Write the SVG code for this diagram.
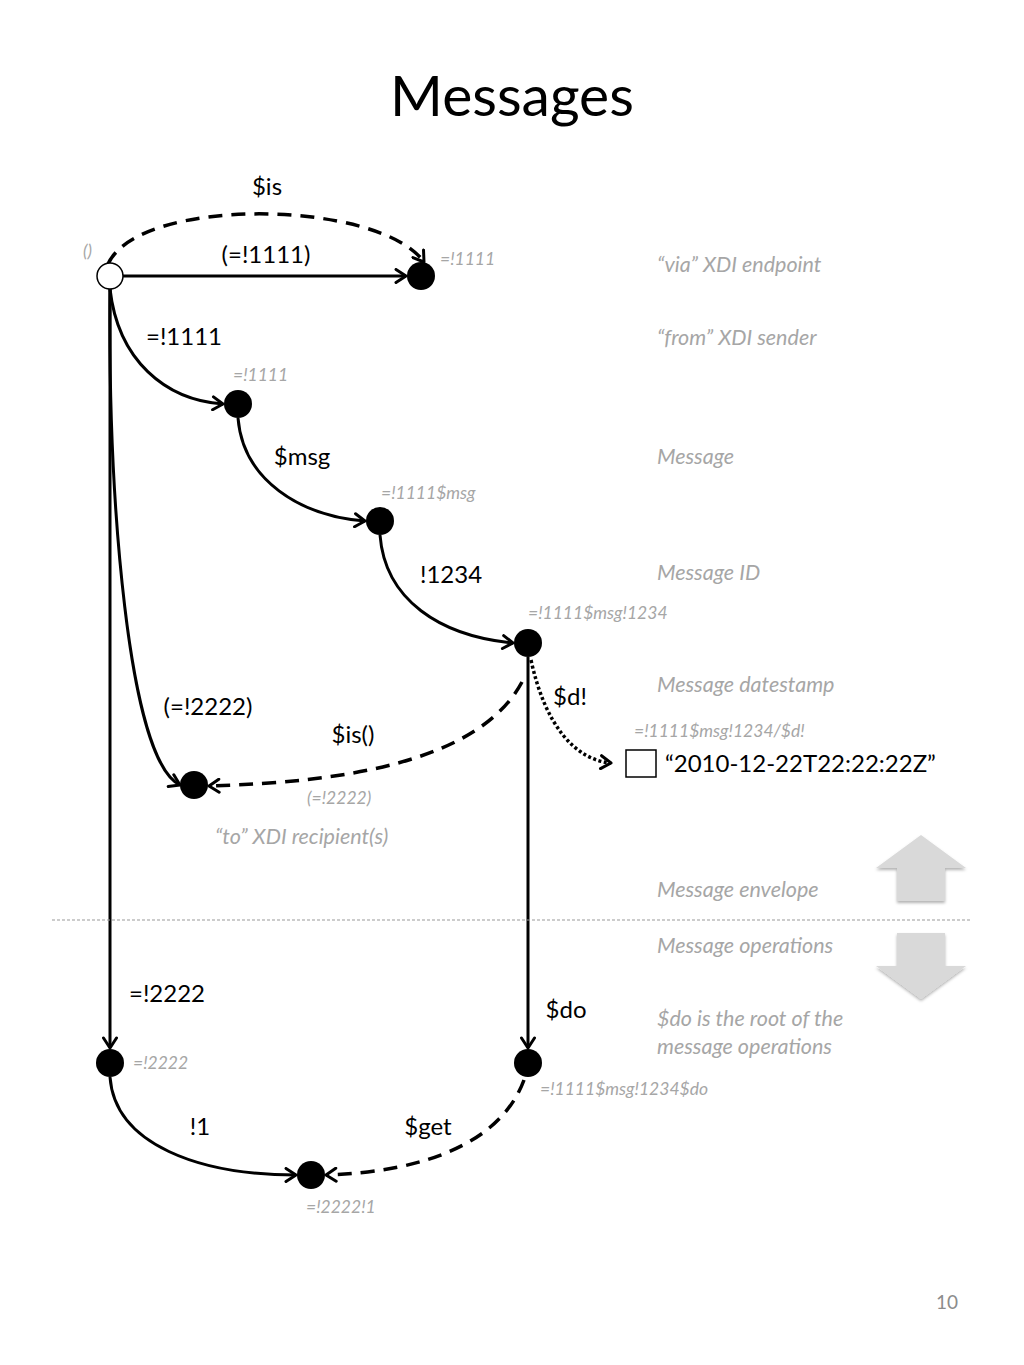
<svg xmlns="http://www.w3.org/2000/svg" width="1024" height="1365" viewBox="0 0 1024 1365">
<defs>
<marker id="ah" markerWidth="16" markerHeight="16" refX="12" refY="8" orient="auto" markerUnits="userSpaceOnUse">
<path d="M2,1.5 L12,8 L2,14.5" fill="none" stroke="#000" stroke-width="3" stroke-linecap="round" stroke-linejoin="round"/>
</marker>
<filter id="sh" x="-20%" y="-20%" width="140%" height="140%">
<feDropShadow dx="0" dy="2" stdDeviation="1.5" flood-color="#000" flood-opacity="0.3"/>
</filter>
</defs>
<style>
.lbl{font-family:Lato,"Open Sans","Liberation Sans",sans-serif;font-size:24px;fill:#000}
.sm{font-family:Lato,"Open Sans","Liberation Sans",sans-serif;font-size:17.5px;font-style:italic;fill:#a6a6a6}
.note{font-family:Lato,"Open Sans","Liberation Sans",sans-serif;font-size:21.5px;font-style:italic;fill:#a6a6a6}
.e{fill:none;stroke:#000;stroke-width:3;marker-end:url(#ah)}
.d{stroke-width:3.5;stroke-dasharray:14,9}
.o{stroke-width:3.5;stroke-dasharray:3,2.5}
.n{fill:#000}
</style>
<rect width="1024" height="1365" fill="#fff"/>
<text x="512" y="116" text-anchor="middle" font-family="Lato,'Open Sans','Liberation Sans',sans-serif" font-size="57">Messages</text>

<g id="connectors">
<path class="e d" d="M108,264 C140,195 380,200 424,262"/>
<path class="e" d="M123,276 L406,276"/>
<path class="e" d="M110,289 C118,360 165,400 223,404"/>
<path class="e" d="M238,418 C243,480 300,516 365,521"/>
<path class="e" d="M380,535 C385,600 440,636 513,643"/>
<path class="e" d="M110,289 C108,500 128,760 180,785"/>
<path class="e d" d="M522,682 C480,760 350,782 209,786"/>
<path class="e o" d="M531,660 C545,725 575,760 611,763"/>
<path class="e" d="M528,657 L528,1048"/>
<path class="e" d="M110,289 L110,1048"/>
<path class="e" d="M110,1077 C115,1145 200,1175 296,1175"/>
<path class="e d" d="M524,1080 C500,1145 420,1172 326,1175"/>
</g>

<g id="n-root"><circle cx="110" cy="276" r="13" fill="#fff" stroke="#000" stroke-width="1.5"/><text class="sm" x="83" y="257">()</text></g>
<g id="n-via"><circle class="n" cx="421" cy="276" r="14"/><text class="sm" x="440" y="265">=!1111</text></g>
<g id="n-from"><circle class="n" cx="238" cy="404" r="14"/><text class="sm" x="233" y="381">=!1111</text></g>
<g id="n-msg"><circle class="n" cx="380" cy="521" r="14"/><text class="sm" x="381" y="499">=!1111$msg</text></g>
<g id="n-id"><circle class="n" cx="528" cy="643" r="14"/><text class="sm" x="528" y="619">=!1111$msg!1234</text></g>
<g id="n-to"><circle class="n" cx="194" cy="785" r="14"/><text class="sm" x="307" y="804">(=!2222)</text></g>
<g id="n-date"><rect x="626" y="750" width="30" height="27" fill="#fff" stroke="#000" stroke-width="1.5"/><text class="sm" x="634" y="737">=!1111$msg!1234/$d!</text><text class="lbl" x="665" y="772">“2010-12-22T22:22:22Z”</text></g>
<g id="n-2222"><circle class="n" cx="110" cy="1063" r="14"/><text class="sm" x="133" y="1069">=!2222</text></g>
<g id="n-do"><circle class="n" cx="528" cy="1063" r="14"/><text class="sm" x="540" y="1095">=!1111$msg!1234$do</text></g>
<g id="n-21"><circle class="n" cx="311" cy="1175" r="14"/><text class="sm" x="306" y="1213">=!2222!1</text></g>

<g id="labels">
<text class="lbl" x="267" y="195" text-anchor="middle">$is</text>
<text class="lbl" x="266" y="263" text-anchor="middle">(=!1111)</text>
<text class="lbl" x="184" y="345" text-anchor="middle">=!1111</text>
<text class="lbl" x="302" y="465" text-anchor="middle">$msg</text>
<text class="lbl" x="451" y="583" text-anchor="middle">!1234</text>
<text class="lbl" x="208" y="715" text-anchor="middle">(=!2222)</text>
<text class="lbl" x="353" y="743" text-anchor="middle">$is()</text>
<text class="lbl" x="570" y="705" text-anchor="middle">$d!</text>
<text class="lbl" x="167" y="1002" text-anchor="middle">=!2222</text>
<text class="lbl" x="566" y="1018" text-anchor="middle">$do</text>
<text class="lbl" x="200" y="1135" text-anchor="middle">!1</text>
<text class="lbl" x="428" y="1135" text-anchor="middle">$get</text>
</g>

<g id="notes">
<text class="note" x="657" y="272">“via” XDI endpoint</text>
<text class="note" x="657" y="345">“from” XDI sender</text>
<text class="note" x="657" y="464">Message</text>
<text class="note" x="657" y="580">Message ID</text>
<text class="note" x="657" y="692">Message datestamp</text>
<text class="note" x="215" y="844">“to” XDI recipient(s)</text>
<text class="note" x="657" y="897">Message envelope</text>
<text class="note" x="657" y="953">Message operations</text>
<text class="note" x="657" y="1026">$do is the root of the</text>
<text class="note" x="657" y="1054">message operations</text>
</g>

<line x1="52" y1="920" x2="970" y2="920" stroke="#999" stroke-width="1" stroke-dasharray="3,2"/>
<g id="arrows" filter="url(#sh)" fill="#d9d9d9">
<polygon points="921,835 966,868 945,868 945,901 897,901 897,868 876,868"/>
<polygon points="897,933 945,933 945,966 966,966 921,999 876,966 897,966"/>
</g>
<text x="947" y="1309" text-anchor="middle" font-family="Lato,'Open Sans','Liberation Sans',sans-serif" font-size="19" fill="#8c8c8c">10</text>
</svg>
